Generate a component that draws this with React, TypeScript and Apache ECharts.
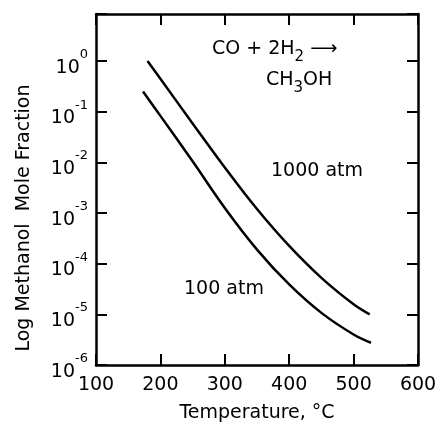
import React, { useEffect, useRef } from "react";
import * as echarts from "echarts";

const FONT = "DejaVu Sans";

// Temperature (°C) and methanol mole fraction
const temp1000 = [180, 200, 250, 300, 350, 400, 450, 500, 525];
const frac1000 = [1.0, 0.447, 0.0589, 7.94e-3, 1.2e-3, 2.24e-4, 5.25e-5, 1.58e-5, 1.0e-5];
const temp100 = [173, 200, 250, 300, 350, 400, 450, 500, 527];
const frac100 = [0.25, 0.083, 0.0105, 1.26e-3, 1.9e-4, 3.9e-5, 1.07e-5, 4.0e-6, 2.75e-6];

const xTicks = [100, 200, 300, 400, 500, 600];
const yMin = 1e-6;
const yMax = Math.pow(10, 0.93);

const labels = [
  { text: "{n|CO + 2H}{sub|2}{n| ⟶}", x: 212, y: 49 },
  { text: "{n|CH}{sub|3}{n|OH}", x: 266, y: 80 },
  { text: "{n|1000 atm}", x: 271, y: 171 },
  { text: "{n|100 atm}", x: 184, y: 289 },
];

export default function App() {
  const ref = useRef<HTMLDivElement>(null);
  useEffect(() => {
    if (!ref.current) return;
    const chart = echarts.init(ref.current, undefined, { renderer: "svg" });
    const axisLine = { show: true, lineStyle: { color: "#000", width: 2.5 } };
    const tick = { show: true, inside: true, length: 11, lineStyle: { color: "#000", width: 2 } };
    const yFmt = (v: number) => {
      const e = Math.log10(v);
      const r = Math.round(e);
      if (Math.abs(e - r) > 1e-6) return "";
      return `{b|10}{s|${r}}`;
    };
    const rich = {
      n: { fontSize: 19, fontFamily: FONT, fill: "#000", color: "#000", lineHeight: 26, verticalAlign: "top" },
      sub: { fontSize: 15, fontFamily: FONT, color: "#000", lineHeight: 15, verticalAlign: "bottom" },
    };
    chart.setOption({
      animation: false,
      grid: { left: 96, right: 22, top: 14, bottom: 55, containLabel: false },
      xAxis: [
        {
          type: "value",
          position: "bottom",
          min: 100,
          max: 600,
          interval: 100,
          axisLine,
          axisTick: tick,
          splitLine: { show: false },
          axisLabel: {
            color: "#000",
            fontFamily: FONT,
            fontSize: 19,
            margin: 8,
            formatter: (v: number) => (xTicks.includes(v) ? String(v) : ""),
          },
          name: "Temperature, °C",
          nameLocation: "middle",
          nameGap: 36,
          nameTextStyle: { color: "#000", fontFamily: FONT, fontSize: 19 },
        },
        {
          type: "value",
          position: "top",
          min: 100,
          max: 600,
          interval: 100,
          axisLine,
          axisTick: tick,
          splitLine: { show: false },
          axisLabel: { show: false },
        },
      ],
      yAxis: [
        {
          type: "log",
          logBase: 10,
          position: "left",
          min: yMin,
          max: yMax,
          axisLine,
          axisTick: tick,
          splitLine: { show: false },
          minorTick: { show: false },
          axisLabel: {
            color: "#000",
            fontFamily: FONT,
            margin: 8,
            formatter: yFmt,
            rich: {
              b: { fontSize: 19, fontFamily: FONT, color: "#000", lineHeight: 28, verticalAlign: "bottom" },
              s: { fontSize: 13, fontFamily: FONT, color: "#000", lineHeight: 13, verticalAlign: "top" },
            },
          },
        },
        {
          type: "log",
          logBase: 10,
          position: "right",
          min: yMin,
          max: yMax,
          axisLine,
          axisTick: tick,
          splitLine: { show: false },
          axisLabel: { show: false },
        },
      ],
      series: [
        {
          name: "1000 atm",
          type: "line",
          smooth: 0.4,
          symbol: "none",
          lineStyle: { color: "#000", width: 2.5 },
          data: temp1000.map((t, i) => [t, frac1000[i]]),
        },
        {
          name: "100 atm",
          type: "line",
          smooth: 0.4,
          symbol: "none",
          lineStyle: { color: "#000", width: 2.5 },
          data: temp100.map((t, i) => [t, frac100[i]]),
        },
      ],
      graphic: [
        ...labels.map((l) => ({
          type: "text",
          left: l.x,
          top: l.y - 12,
          style: { text: l.text, rich, fontFamily: FONT, fontSize: 19, fill: "#000" },
        })),
        {
          type: "text",
          x: 22,
          y: 218,
          rotation: Math.PI / 2,
          style: {
            text: "Log Methanol  Mole Fraction",
            fontFamily: FONT,
            fontSize: 19,
            fill: "#000",
            align: "center",
            verticalAlign: "middle",
          },
        },
      ],
    });
    return () => chart.dispose();
  }, []);
  return <div ref={ref} style={{ width: 440, height: 425, position: "fixed", left: 0, top: 0 }} />;
}
